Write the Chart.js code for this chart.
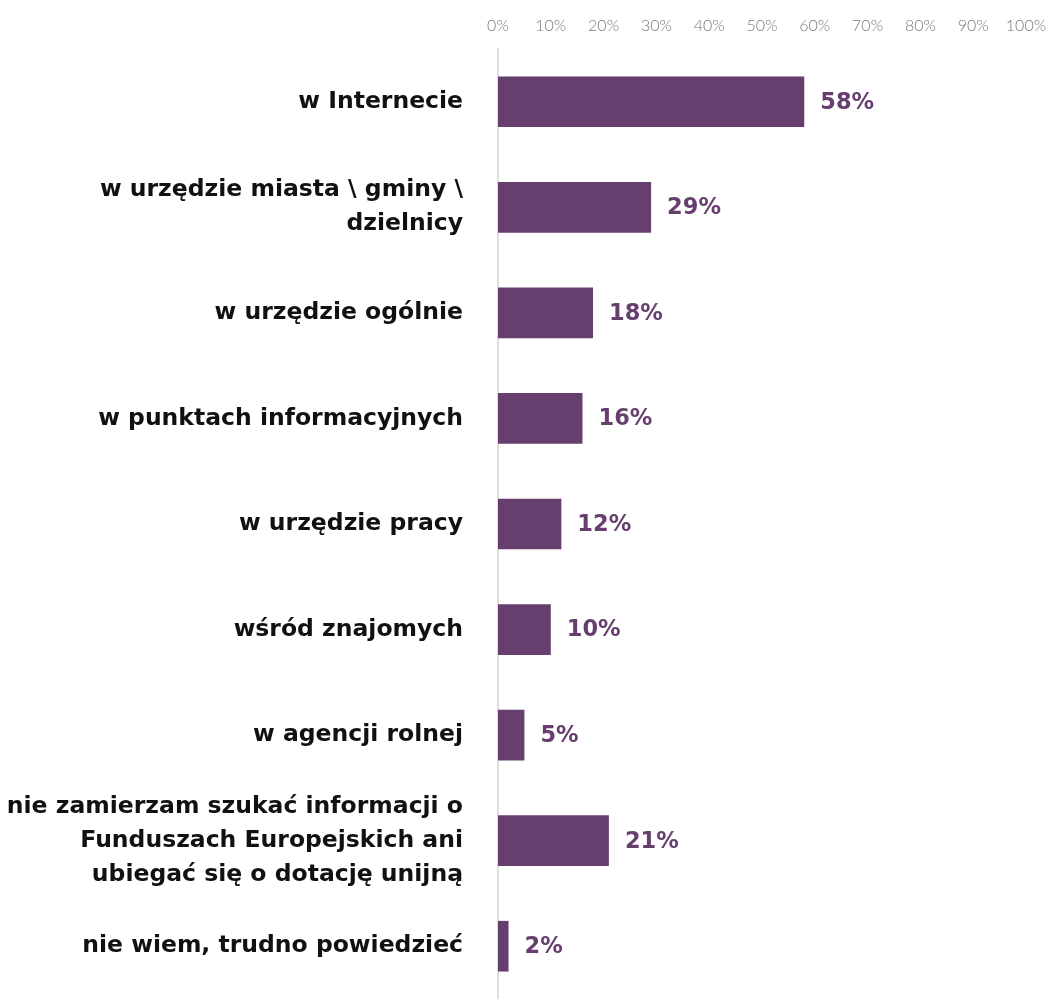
<!DOCTYPE html>
<html lang="pl">
<head>
<meta charset="UTF-8">
<title>Gdzie szukać informacji</title>
<style>
  html, body { margin: 0; padding: 0; background: #fff; }
  #wrap { width: 1052px; height: 999px; }
</style>
</head>
<body>
<div id="wrap"><canvas id="chart" width="1052" height="999"></canvas></div>
<script src="https://cdn.jsdelivr.net/npm/chart.js"></script>
<script>
// dane z wykresu
const categories = [
  ['w Internecie'],
  ['w urzędzie miasta \\ gminy \\', 'dzielnicy'],
  ['w urzędzie ogólnie'],
  ['w punktach informacyjnych'],
  ['w urzędzie pracy'],
  ['wśród znajomych'],
  ['w agencji rolnej'],
  ['nie zamierzam szukać informacji o', 'Funduszach Europejskich ani', 'ubiegać się o dotację unijną'],
  ['nie wiem, trudno powiedzieć']
];
const values = [58, 29, 18, 16, 12, 10, 5, 21, 2];
const xTicks = [0, 10, 20, 30, 40, 50, 60, 70, 80, 90, 100];

const purple = '#673f6e';

// etykiety wartosci przy koncach slupkow
const valueLabels = {
  id: 'valueLabels',
  afterDatasetsDraw(chart) {
    const ctx = chart.ctx;
    const meta = chart.getDatasetMeta(0);
    ctx.save();
    ctx.font = 'bold 22.5px "DejaVu Sans"';
    ctx.fillStyle = purple;
    ctx.textAlign = 'left';
    ctx.textBaseline = 'middle';
    meta.data.forEach((bar, i) => {
      ctx.fillText(values[i] + '%', bar.x + 16, bar.y + 1);
    });
    ctx.restore();
  }
};

new Chart(document.getElementById('chart'), {
  type: 'bar',
  data: {
    labels: categories,
    datasets: [{
      data: values,
      backgroundColor: purple,
      borderWidth: 0,
      categoryPercentage: 1,
      barPercentage: 0.48
    }]
  },
  options: {
    indexAxis: 'y',
    responsive: false,
    animation: false,
    layout: { padding: { top: 0, right: 26, bottom: 0, left: 0 } },
    plugins: {
      legend: { display: false },
      tooltip: { enabled: false }
    },
    scales: {
      x: {
        position: 'top',
        min: 0,
        max: 100,
        afterBuildTicks(scale) {
          scale.ticks = xTicks.map(v => ({ value: v }));
        },
        afterFit(scale) {
          scale.height = 49;
          scale.paddingLeft = 0;
          scale.paddingRight = 0;
        },
        grid: { display: false, drawTicks: false },
        border: { display: false },
        ticks: {
          padding: 14,
          color: '#7a7a7a',
          font: { family: 'Lato', size: 16, weight: 300 },
          callback: v => v + '%'
        }
      },
      y: {
        afterFit(scale) {
          scale.width = 498;
          scale.paddingTop = 0;
          scale.paddingBottom = 0;
        },
        grid: { display: false, drawTicks: false },
        border: { display: true, color: '#dedede', width: 2 },
        ticks: {
          padding: 35,
          color: '#111',
          font: { family: 'DejaVu Sans', size: 23.5, weight: 'bold', lineHeight: 1.45 }
        }
      }
    }
  },
  plugins: [valueLabels]
});
</script>
</body>
</html>
